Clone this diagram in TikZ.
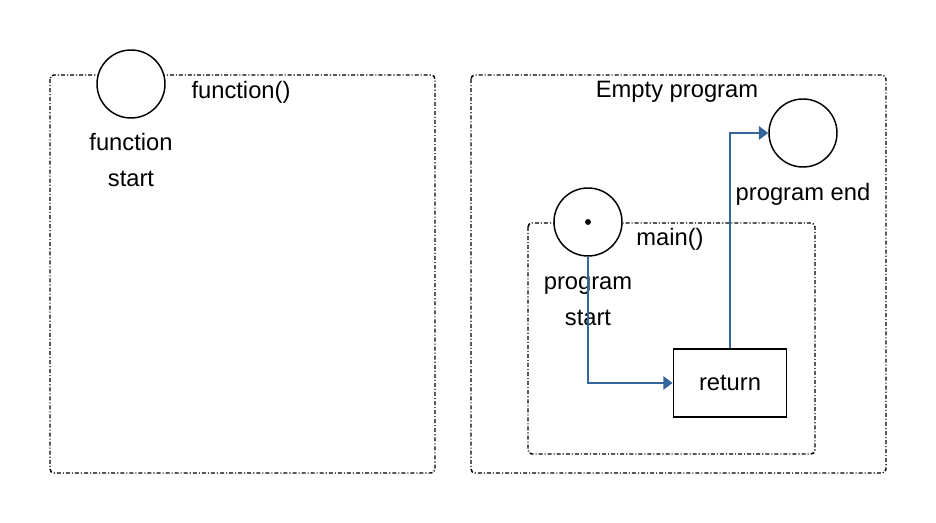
\documentclass[tikz,border=0pt]{standalone}
\usepackage{fontspec}
\setmainfont{Liberation Sans}
\usetikzlibrary{arrows.meta}
\definecolor{flowblue}{RGB}{54,101,155}
\begin{document}
\begin{tikzpicture}[x=0.75pt,y=-0.75pt,
  every node/.style={font=\fontsize{17.8}{27}\selectfont, inner sep=0pt},
  frame/.style={draw, line width=1.1pt, rounded corners=3pt, dash pattern=on 3pt off 1.5pt on 0.8pt off 1.5pt},
  state/.style={draw, circle, line width=1.1pt, minimum size=51pt, fill=white},
  lbl/.style={align=center},
  flow/.style={draw=flowblue, line width=1.4pt, -{Triangle[length=7pt,width=10pt]}},
  retbox/.style={draw, line width=1.1pt, minimum width=85pt, minimum height=51pt}]
\useasboundingbox (0,0) rectangle (936,523);
% left frame
\draw[frame] (50,75) rectangle (435,473);
\node[state] (fs) at (131,84) {};
\node (ftitle) at (241,92) {function()};
\node[lbl] (fsl) at (131,160) {function\\start};
% right frame
\draw[frame] (471,75) rectangle (886,473);
\node (etitle) at (677,92) {Empty program};
\draw[frame] (528,223) rectangle (815,454);
\node (mtitle) at (670,239) {main()};
\node[state] (pe) at (803,133) {};
\node (pel) at (803,194) {program end};
\node[state] (ps) at (588,222) {};
\fill (ps.center) circle (2.2pt);
\node[lbl] (psl) at (588,301) {program\\start};
\node[retbox] (ret) at (730,383) {return};
\coordinate (c1) at (588,383);
\coordinate (c2) at (ret.north |- pe.west);
\draw[flow] (ps.south) -- (c1) -- (ret.west);
\draw[flow] (ret.north) -- (c2) -- (pe.west);
\end{tikzpicture}
\end{document}
